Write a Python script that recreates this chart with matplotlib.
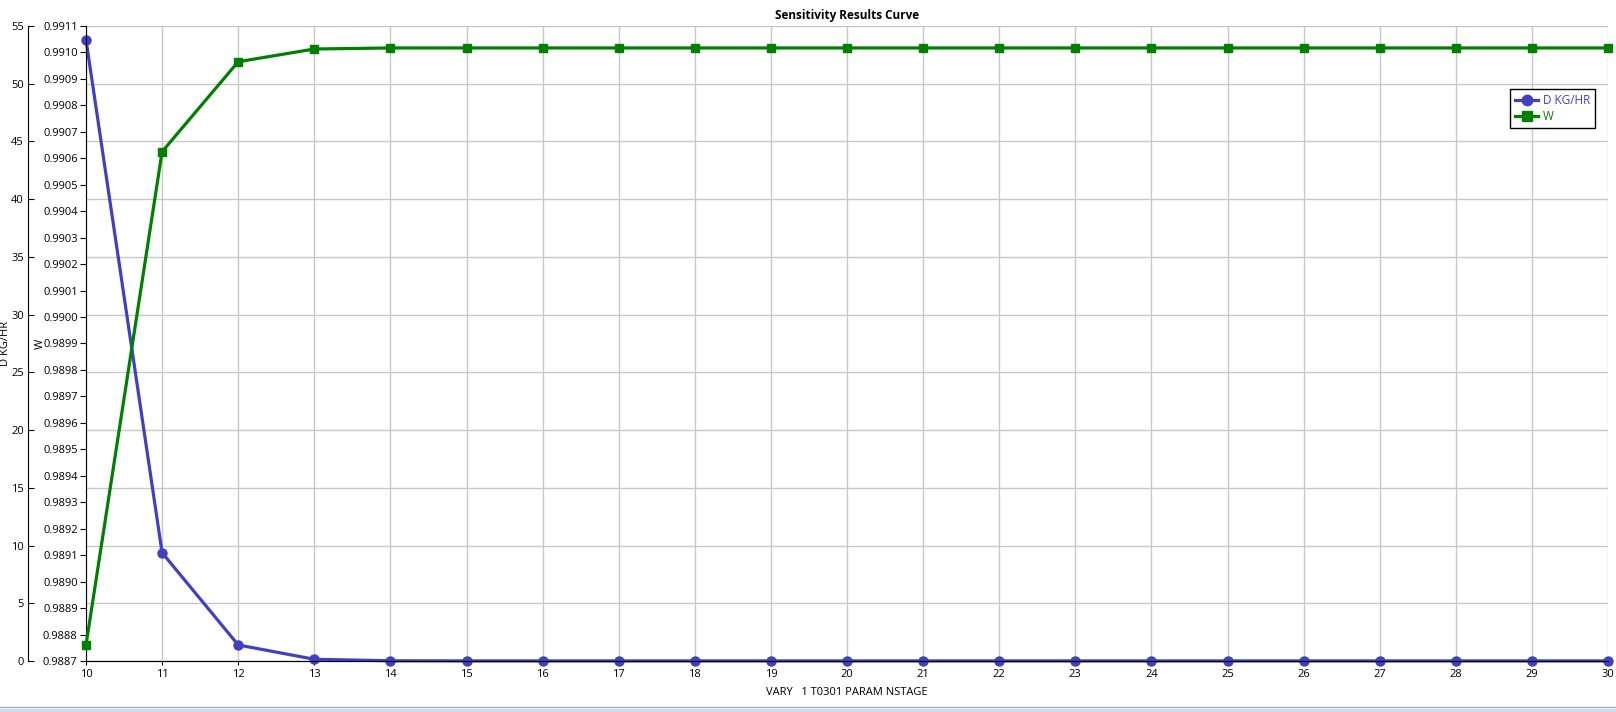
import matplotlib
matplotlib.use("Agg")
import matplotlib.pyplot as plt
from matplotlib.ticker import MultipleLocator, FormatStrFormatter
from matplotlib.lines import Line2D

plt.rcParams['font.family'] = ['Open Sans', 'DejaVu Sans']

nstage = [10, 11, 12, 13, 14, 15, 16, 17, 18, 19, 20, 21, 22, 23, 24, 25, 26, 27, 28, 29, 30]
d_kghr = [53.8, 9.38, 1.39, 0.15, 0.02, 0.01, 0.01, 0.01, 0.01, 0.01, 0.01, 0.01,
          0.01, 0.01, 0.01, 0.01, 0.01, 0.01, 0.01, 0.01, 0.01]
w_frac = [0.98876, 0.990625, 0.990965, 0.991013, 0.991017, 0.991017, 0.991017, 0.991017,
          0.991017, 0.991017, 0.991017, 0.991017, 0.991017, 0.991017, 0.991017, 0.991017,
          0.991017, 0.991017, 0.991017, 0.991017, 0.991017]

title = "Sensitivity Results Curve"
xlabel = "VARY   1 T0301 PARAM NSTAGE"
d_label = "D KG/HR"
w_label = "W"

blue = "#4040C0"
green = "#008000"
W, H = 1616, 712
fig = plt.figure(figsize=(W / 100, H / 100), dpi=100)
L, R, B, T = 86, 1608, 661, 26
ax = fig.add_axes([L / W, 1 - B / H, (R - L) / W, (B - T) / H])

ax.set_xlim(10, 30)
ax.set_ylim(0, 55)
ax.xaxis.set_major_locator(MultipleLocator(1))
ax.yaxis.set_major_locator(MultipleLocator(5))
ax.grid(True, color="#C8C8C8", linewidth=1.0)
ax.set_axisbelow(True)
for s in ["top", "right"]:
    ax.spines[s].set_visible(False)
ax.spines["left"].set_position(("axes", -(L - 28) / (R - L)))
ax.tick_params(axis="y", direction="in", length=4, labelsize=8, pad=3)
ax.tick_params(axis="x", direction="out", length=3, labelsize=8, pad=3, color="black")
ax.set_ylabel(d_label, fontsize=8)
ax.yaxis.set_label_coords((11 - L) / (R - L), 0.5)
ax.set_xlabel(xlabel, fontsize=8, labelpad=5)

ax2 = ax.twinx()
ax2.set_ylim(0.9887, 0.9911)
ax2.yaxis.tick_left()
ax2.yaxis.set_label_position("left")
ax2.yaxis.set_major_locator(MultipleLocator(0.0001))
ax2.yaxis.set_major_formatter(FormatStrFormatter("%.4f"))
ax2.tick_params(axis="y", direction="out", length=4, labelsize=8, pad=2)
for s in ["top", "right"]:
    ax2.spines[s].set_visible(False)
ax2.spines["left"].set_visible(True)
ax2.set_ylabel(w_label, fontsize=8)
ax2.yaxis.set_label_coords((46 - L) / (R - L), 0.5)

ax.plot(nstage, d_kghr, color=blue, linewidth=2.3, marker="o", markersize=6.5, clip_on=False, zorder=3)
ax2.plot(nstage, w_frac, color=green, linewidth=2.3, marker="s", markersize=6, clip_on=False, zorder=3)

fig.text((L + R) / 2 / W, 1 - 15 / H, title, ha="center", va="center", fontsize=8.5, fontweight="bold")

handles = [Line2D([], [], color=blue, linewidth=2.3, marker="o", markersize=7.5),
           Line2D([], [], color=green, linewidth=2.3, marker="s", markersize=7)]
leg = ax2.legend(handles, [d_label, w_label], loc="upper left",
                 bbox_to_anchor=(1510 / W, 1 - 89 / H), bbox_transform=fig.transFigure,
                 borderaxespad=0, fancybox=False, edgecolor="black", framealpha=1,
                 fontsize=8.5, handlelength=2.0, handletextpad=0.4, labelspacing=0.3,
                 borderpad=0.4)
leg.get_frame().set_linewidth(1.0)
leg.get_texts()[0].set_color(blue)
leg.get_texts()[1].set_color(green)

# window bottom separator
fig.add_artist(Line2D([0, 1], [1 - 707 / H, 1 - 707 / H], transform=fig.transFigure, color="#A0A8B4", linewidth=1))
fig.add_artist(Line2D([0, 1], [1 - 710 / H, 1 - 710 / H], transform=fig.transFigure, color="#C8D8EC", linewidth=2))

fig.savefig("out.png", dpi=100)
